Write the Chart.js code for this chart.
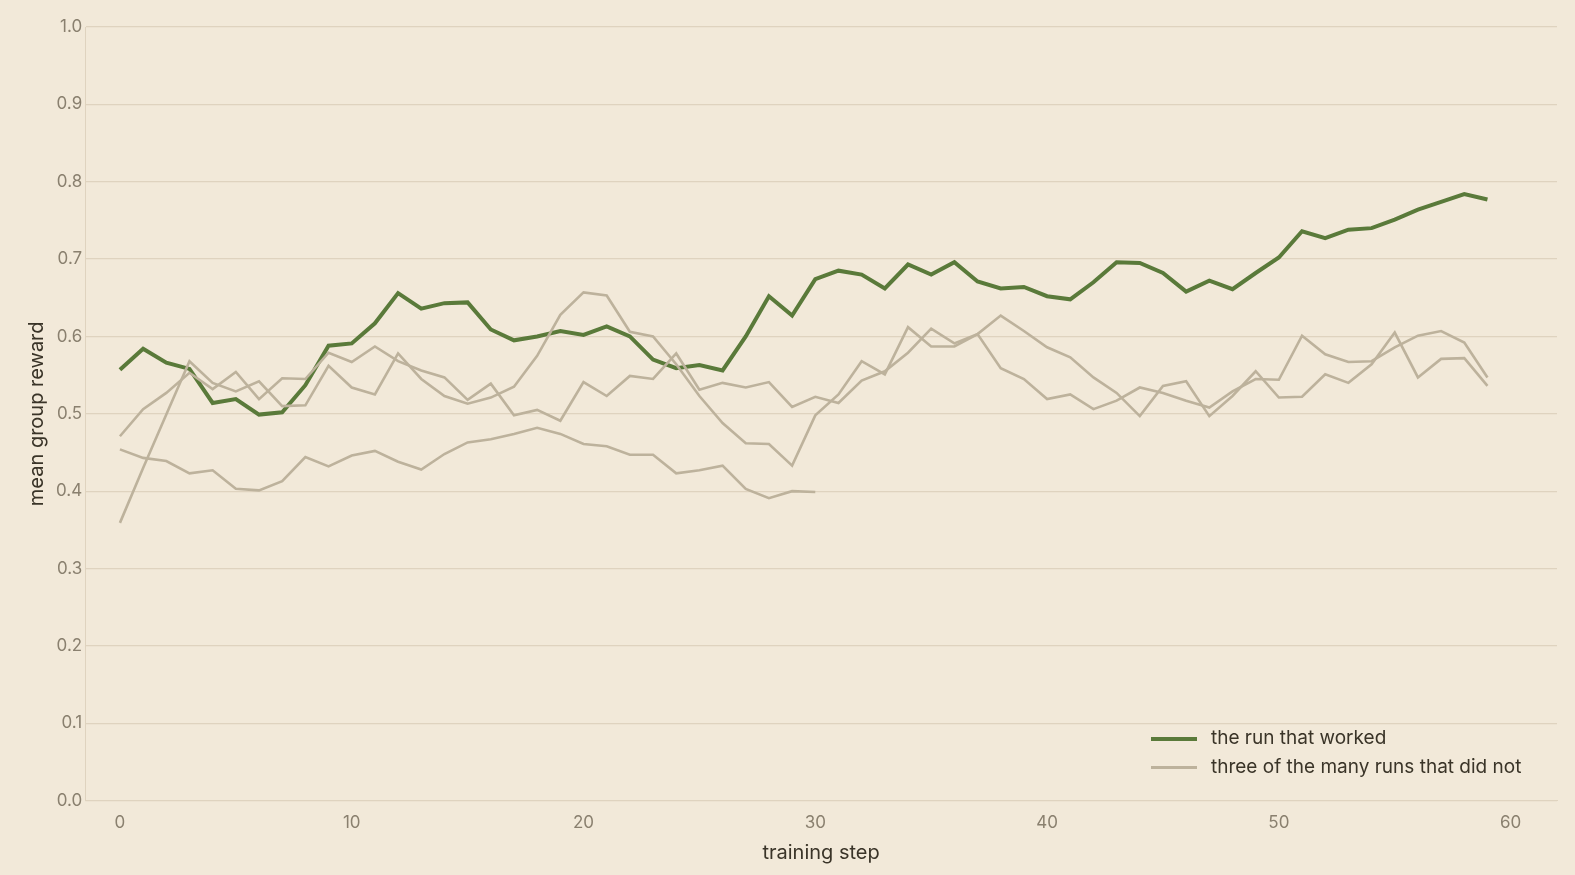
<!DOCTYPE html>
<html><head><meta charset="utf-8">
<script src="https://cdn.jsdelivr.net/npm/chart.js@4/dist/chart.umd.min.js"></script>
<style>
html,body{margin:0;padding:0;background:#f2e9d9;}
#wrap{position:relative;width:1575px;height:875px;}
#legend{position:absolute;left:1151px;top:723px;font-family:"Helvetica Neue",Inter,"Liberation Sans",Arial,sans-serif;font-size:19px;color:#3a3428;line-height:29px;}
#legend .sw{display:inline-block;width:46px;vertical-align:middle;margin-right:14px;}
</style></head><body>
<div id="wrap"><canvas id="c" width="1575" height="875"></canvas>
<div id="legend">
<div><span class="sw" style="border-top:4px solid #5a7a3a"></span>the run that worked</div>
<div><span class="sw" style="border-top:3px solid #bdb29c"></span>three of the many runs that did not</div>
</div></div>
<script>
const steps = Array.from({length:60},(_,i)=>i);
const worked = [0.557,0.584,0.566,0.558,0.514,0.519,0.499,0.502,0.537,0.588,0.591,0.617,0.656,0.636,0.643,0.644,0.609,0.595,0.600,0.607,0.602,0.613,0.600,0.570,0.559,0.563,0.556,0.600,0.652,0.627,0.674,0.685,0.680,0.662,0.693,0.680,0.696,0.671,0.662,0.664,0.652,0.648,0.670,0.696,0.695,0.682,0.658,0.672,0.661,0.682,0.702,0.736,0.727,0.738,0.740,0.751,0.764,0.774,0.784,0.777];
const failA = [0.359,0.430,0.499,0.568,0.540,0.529,0.542,0.510,0.511,0.562,0.534,0.525,0.578,0.545,0.523,0.513,0.521,0.535,0.575,0.628,0.657,0.653,0.606,0.600,0.564,0.523,0.488,0.462,0.461,0.433,0.498,0.525,0.568,0.551,0.612,0.587,0.587,0.603,0.627,0.607,0.586,0.573,0.547,0.527,0.497,0.536,0.542,0.497,0.523,0.555,0.521,0.522,0.551,0.540,0.564,0.605,0.547,0.571,0.572,0.536];
const failB = [0.471,0.506,0.527,0.553,0.532,0.554,0.519,0.546,0.545,0.579,0.567,0.587,0.568,0.556,0.547,0.518,0.539,0.498,0.505,0.491,0.541,0.523,0.549,0.545,0.578,0.531,0.540,0.534,0.541,0.509,0.522,0.514,0.543,0.555,0.579,0.610,0.591,0.603,0.559,0.545,0.519,0.525,0.506,0.517,0.534,0.527,0.517,0.508,0.529,0.545,0.544,0.601,0.577,0.567,0.568,0.586,0.601,0.607,0.592,0.547];
const failC = [0.454,0.443,0.439,0.423,0.427,0.403,0.401,0.413,0.444,0.432,0.446,0.452,0.438,0.428,0.448,0.463,0.467,0.474,0.482,0.474,0.461,0.458,0.447,0.447,0.423,0.427,0.433,0.403,0.391,0.400,0.399];
const xTicks = [0,10,20,30,40,50,60];
const pts = a => a.map((v,i)=>({x:steps[i],y:v}));
const font = '"Helvetica Neue",Inter,"Liberation Sans",Arial,sans-serif';
const gray = '#bdb29c';
const ds = (d,c,w)=>({data:pts(d),borderColor:c,borderWidth:w,pointRadius:0,tension:0,fill:false});
new Chart(document.getElementById('c'),{
 type:'line',
 data:{datasets:[ds(failA,gray,2.6),ds(failB,gray,2.6),ds(failC,gray,2.6),ds(worked,'#5a7a3a',4)]},
 options:{responsive:false,animation:false,
  layout:{padding:{left:21,right:18,top:27,bottom:6}},
  plugins:{legend:{display:false},tooltip:{enabled:false}},
  scales:{
   x:{type:'linear',min:-1.5,max:62,afterBuildTicks:s=>{s.ticks=xTicks.map(v=>({value:v}));},
      grid:{display:false},border:{display:true,color:'#dfd3bf'},
      ticks:{color:'#8a806f',font:{family:font,size:17},padding:4},
      title:{display:true,text:'training step',color:'#3a3428',font:{family:font,size:20},padding:{top:4}}},
   y:{min:0,max:1,ticks:{stepSize:0.1,color:'#8a806f',font:{family:font,size:17},callback:v=>v.toFixed(1)},
      grid:{color:'#dfd3bf',drawTicks:false,lineWidth:1.2},border:{display:true,color:'#dfd3bf'},
      title:{display:true,text:'mean group reward',color:'#3a3428',font:{family:font,size:20}}}
  }}
});
</script></body></html>
